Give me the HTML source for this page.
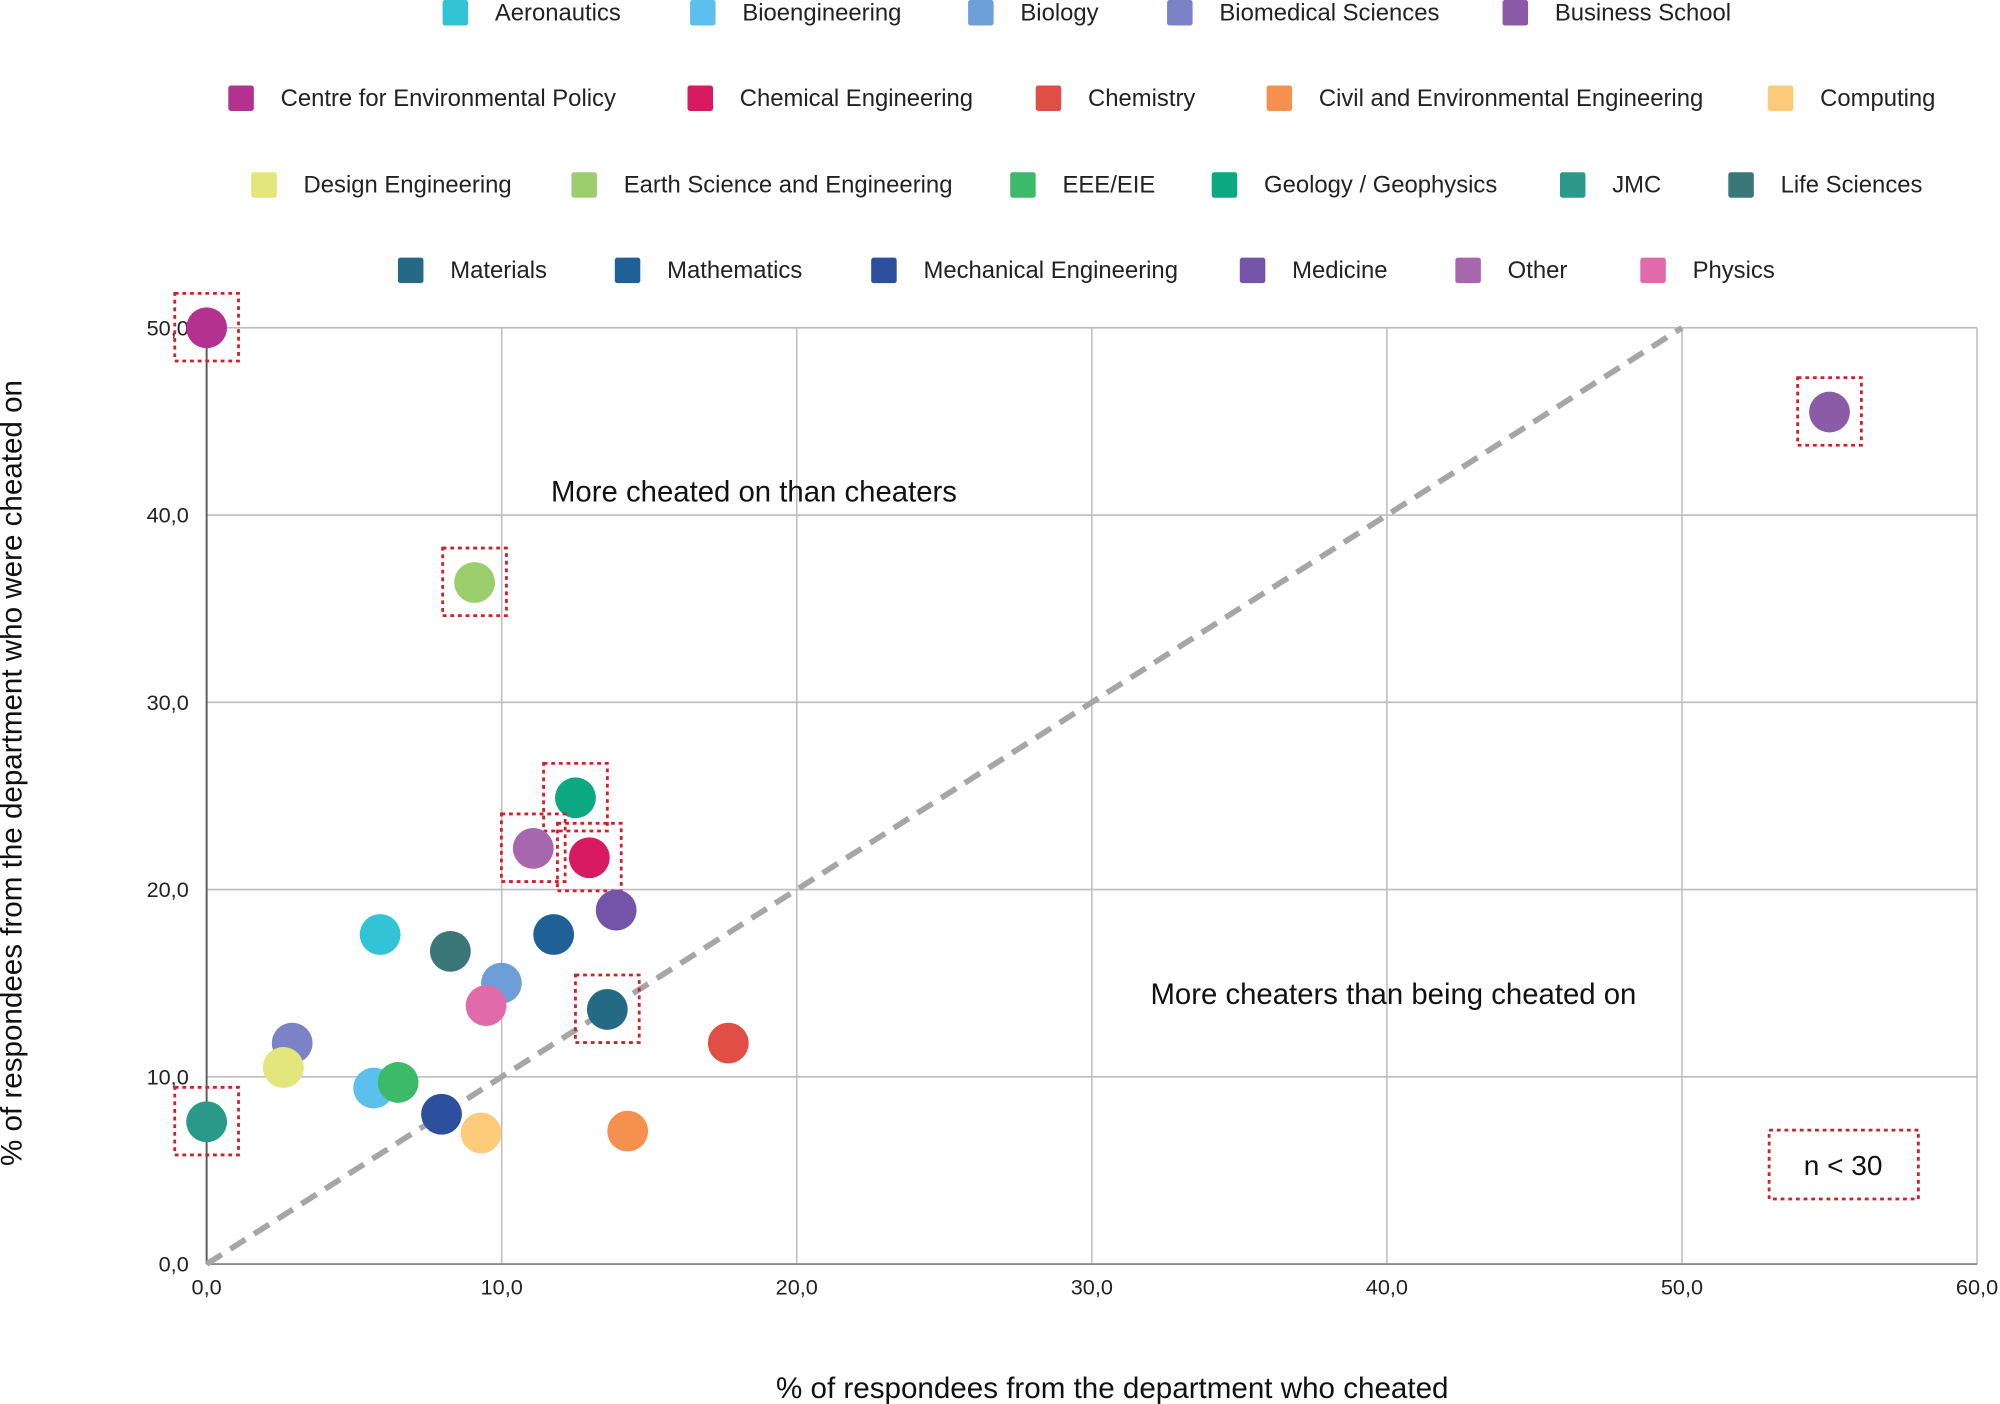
<!DOCTYPE html>
<html><head><meta charset="utf-8"><style>
html,body{margin:0;padding:0;background:#fff;}
svg{display:block;font-family:"Liberation Sans",sans-serif;}
</style></head><body>
<svg id="chart" width="2000" height="1404" viewBox="0 0 1568 1100.7" preserveAspectRatio="none" xmlns="http://www.w3.org/2000/svg"></svg>
<script>
const departments = ["Aeronautics","Bioengineering","Biology","Biomedical Sciences","Business School","Centre for Environmental Policy","Chemical Engineering","Chemistry","Civil and Environmental Engineering","Computing","Design Engineering","Earth Science and Engineering","EEE/EIE","Geology / Geophysics","JMC","Life Sciences","Materials","Mathematics","Mechanical Engineering","Medicine","Other","Physics"];
const colors = ["#33C3D6","#5BC0EE","#6D9ED8","#7B82C6","#8B5BA8","#B5318F","#D81B60","#E04E46","#F5904E","#FECB7A","#E3E67A","#9DCE6E","#3DB96A","#0BA882","#2A9989","#3B7779","#246A85","#1F6196","#2C4F9E","#7454A8","#A866AE","#E06AAA"];
const cheatedPct = [5.88,5.66,9.99,2.9,55.0,0.0,12.97,17.68,14.27,9.3,2.6,9.08,6.49,12.5,0.0,8.26,13.58,11.76,7.96,13.88,11.07,9.47];
const cheatedOnPct = [17.6,9.4,15.0,11.8,45.5,50.0,21.7,11.8,7.1,7.0,10.5,36.4,9.7,24.9,7.6,16.7,13.6,17.6,8.0,18.9,22.2,13.8];
const smallSample = [false,false,false,false,true,true,true,false,false,false,false,true,false,true,true,false,true,false,false,false,true,false];
const xTicks = [0,10,20,30,40,50,60];
const yTicks = [0,10,20,30,40,50];
const xTickLabels = ["0,0","10,0","20,0","30,0","40,0","50,0","60,0"];
const yTickLabels = ["0,0","10,0","20,0","30,0","40,0","50,0"];

const NS="http://www.w3.org/2000/svg";
const svg=document.getElementById('chart');
const X0=162,X1=1550,Y0=991,Y1=257;
const xs=v=>X0+(v/60)*(X1-X0);
const ys=v=>Y0-(v/50)*(Y0-Y1);
function mk(tag,attrs,parent){const e=document.createElementNS(NS,tag);for(const k in attrs)e.setAttribute(k,attrs[k]);(parent||svg).appendChild(e);return e;}

// legend
const legendRows=[[0,1,2,3,4],[5,6,7,8,9],[10,11,12,13,14,15],[16,17,18,19,20,21]];
const legendX=[[357,551,769,925,1188],[189,549,822,1003,1396],[207,458,802,960,1233,1365],[322,492,693,982,1151,1296]];
const legendY=[10,77,145,212];
legendRows.forEach((row,r)=>row.forEach((d,i)=>{
  const g=mk('g',{});
  
  
  const sx=legendX[r][i];
  mk('rect',{x:sx-10,y:legendY[r]-10,width:20,height:20,rx:2,fill:colors[d]},g);
  const t=mk('text',{x:sx+31,y:legendY[r]+6,'font-size':18.7,fill:'#222'},g);
  t.textContent=departments[d];
}));

// grid
xTicks.forEach((v,i)=>{
  if(v>0){const l=mk('line',{x1:xs(v),x2:xs(v),y1:Y1,y2:Y0,stroke:'#BDBDBD','stroke-width':1.2});
  }
  const t=mk('text',{x:xs(v),y:Y0+24,'font-size':17,'text-anchor':'middle',fill:'#222'});
  
  t.textContent=xTickLabels[i];
});
yTicks.forEach((v,i)=>{
  if(v>0){const l=mk('line',{x1:X0,x2:X1,y1:ys(v),y2:ys(v),stroke:'#BDBDBD','stroke-width':1.2});
  }
  const t=mk('text',{x:148,y:ys(v)+6,'font-size':17,'text-anchor':'end',fill:'#222'});
  
  t.textContent=yTickLabels[i];
});
const ya=mk('line',{x1:X0,x2:X0,y1:Y1,y2:Y0,stroke:'#595959','stroke-width':1.5});

const xa=mk('line',{x1:X0,x2:X1,y1:Y0,y2:Y0,stroke:'#8C8C8C','stroke-width':1.5});


// diagonal
const diag=mk('line',{x1:xs(0),y1:ys(0),x2:xs(50),y2:ys(50),stroke:'#A6A6A6','stroke-width':4.5,'stroke-dasharray':'14 8'});


// points
departments.forEach((d,i)=>{
  const cx=xs(cheatedPct[i]),cy=ys(cheatedOnPct[i]);
  const c=mk('circle',{cx:cx,cy:cy,r:16,fill:colors[i]});
  
  
  if(smallSample[i]){
    const b=mk('rect',{x:cx-25,y:cy-27,width:50,height:53,fill:'none',stroke:'#D0202E','stroke-width':2.2,'stroke-dasharray':'3 3'});
    
  }
});

// annotations
let t=mk('text',{x:432,y:393,'font-size':23,fill:'#111'});

t.textContent='More cheated on than cheaters';
t=mk('text',{x:902,y:787,'font-size':23,fill:'#111'});

t.textContent='More cheaters than being cheated on';
const nb=mk('rect',{x:1387,y:886,width:117,height:54,fill:'none',stroke:'#D0202E','stroke-width':2.2,'stroke-dasharray':'3 3'});

t=mk('text',{x:1445,y:921,'font-size':22,'text-anchor':'middle',fill:'#111'});

t.textContent='n < 30';

// axis titles
t=mk('text',{x:872,y:1096,'font-size':23.2,'text-anchor':'middle',fill:'#111'});

t.textContent='% of respondees from the department who cheated';
t=mk('text',{x:0,y:0,'font-size':23.2,'text-anchor':'middle',fill:'#111',transform:'translate(17,606) rotate(-90)'});

t.textContent='% of respondees from the department who were cheated on';
</script>
</body></html>
